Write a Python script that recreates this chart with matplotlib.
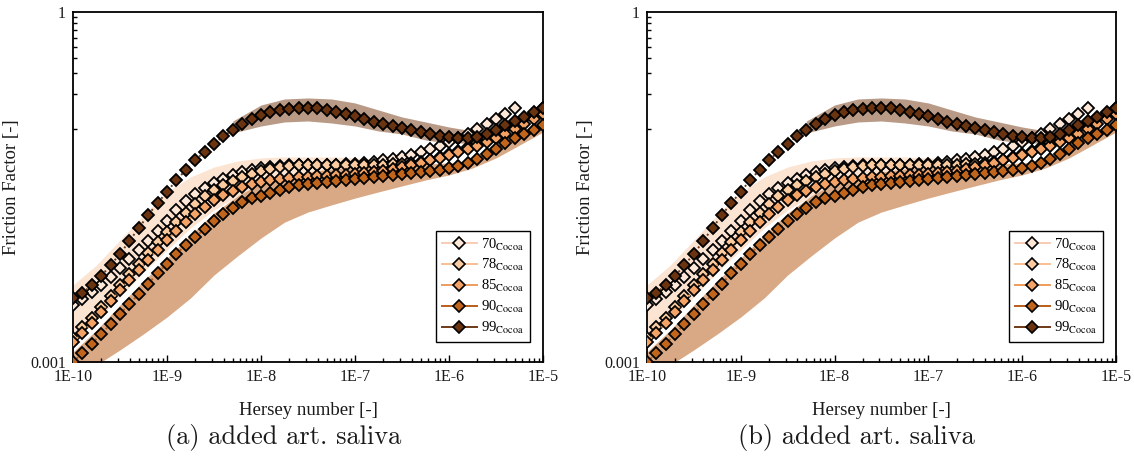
import numpy as np
import matplotlib
matplotlib.use('Agg')
import matplotlib.pyplot as plt
from matplotlib.lines import Line2D
from matplotlib.ticker import FixedLocator, FixedFormatter, NullFormatter

plt.rcParams['font.family'] = ['Liberation Serif', 'DejaVu Serif']
plt.rcParams['mathtext.fontset'] = 'stix'

# Hersey number grid (10 points per decade)
hersey = np.logspace(-10, -5, 51)

f70 = [0.00308, 0.00347, 0.00398, 0.00457, 0.00535, 0.00639, 0.00764, 0.00912, 0.0109, 0.0133,
       0.0162, 0.0201, 0.0240, 0.0275, 0.0310, 0.0342, 0.0370, 0.0401, 0.0425, 0.0442,
       0.0460, 0.0469, 0.0479, 0.0488, 0.0486, 0.0485, 0.0486, 0.0488, 0.0490, 0.0496,
       0.0498, 0.0508, 0.0518, 0.0539, 0.0550, 0.0572, 0.0595, 0.0631, 0.0669, 0.0710,
       0.0768, 0.0832, 0.0900, 0.0993, 0.1096, 0.1210, 0.1335, 0.1504]
f78 = [0.00161, 0.00200, 0.00238, 0.00296, 0.00368, 0.00457, 0.00568, 0.00692, 0.00860, 0.0107,
       0.0130, 0.0158, 0.0189, 0.0226, 0.0265, 0.0298, 0.0329, 0.0356, 0.0385, 0.0409,
       0.0434, 0.0451, 0.0469, 0.0479, 0.0488, 0.0490, 0.0492, 0.0492, 0.0490, 0.0488,
       0.0488, 0.0488, 0.0490, 0.0492, 0.0494, 0.0498, 0.0508, 0.0518, 0.0539, 0.0572,
       0.0607, 0.0644, 0.0696, 0.0753, 0.0832, 0.0918, 0.1013, 0.1118, 0.1234, 0.1362,
       0.1504]
f85 = [0.00148, 0.00177, 0.00216, 0.00268, 0.00333, 0.00414, 0.00504, 0.00615, 0.00748, 0.00912,
       0.0111, 0.0133, 0.0158, 0.0186, 0.0213, 0.0245, 0.0270, 0.0292, 0.0316, 0.0335,
       0.0349, 0.0363, 0.0370, 0.0378, 0.0385, 0.0385, 0.0393, 0.0393, 0.0401, 0.0401,
       0.0409, 0.0417, 0.0425, 0.0434, 0.0451, 0.0469, 0.0488, 0.0508, 0.0539, 0.0561,
       0.0595, 0.0631, 0.0669, 0.0710, 0.0768, 0.0832, 0.0900, 0.0993, 0.1096, 0.1210,
       0.1335]
f90 = [0.00100, 0.00119, 0.00143, 0.00174, 0.00212, 0.00258, 0.00314, 0.00383, 0.00466, 0.00579,
       0.00692, 0.00843, 0.01007, 0.0118, 0.0138, 0.0162, 0.0186, 0.0209, 0.0235, 0.0254,
       0.0265, 0.0281, 0.0298, 0.0316, 0.0329, 0.0335, 0.0342, 0.0349, 0.0356, 0.0363,
       0.0370, 0.0378, 0.0385, 0.0393, 0.0401, 0.0409, 0.0417, 0.0425, 0.0434, 0.0442,
       0.0460, 0.0479, 0.0508, 0.0550, 0.0607, 0.0669, 0.0753, 0.0832, 0.0900, 0.0974,
       0.1075]
f99 = [0.00354, 0.00390, 0.00457, 0.00546, 0.00678, 0.00843, 0.0109, 0.0141, 0.0182, 0.0231,
       0.0287, 0.0363, 0.0442, 0.0539, 0.0631, 0.0739, 0.0865, 0.0974, 0.1096, 0.1210,
       0.1310, 0.1389, 0.1445, 0.1474, 0.1504, 0.1504, 0.1504, 0.1445, 0.1389, 0.1335,
       0.1284, 0.1210, 0.1141, 0.1096, 0.1054, 0.1013, 0.0974, 0.0936, 0.0900, 0.0865,
       0.0848, 0.0832, 0.0832, 0.0848, 0.0900, 0.0974, 0.1075, 0.1163, 0.1259, 0.1389,
       0.1504]

# spread bands
band_x = np.logspace(-10, -5, 21)
light_hi = [0.00457, 0.00678, 0.0111, 0.0182, 0.0287, 0.0385, 0.0469, 0.0528, 0.0561, 0.0572,
            0.0572, 0.0572, 0.0561, 0.0550, 0.0539, 0.0518, 0.0488]
light_lo = [0.00148, 0.00229, 0.00361, 0.00591, 0.00912, 0.0141, 0.0201, 0.0265, 0.0323, 0.0363,
            0.0385, 0.0393, 0.0401, 0.0417, 0.0434, 0.0451, 0.0469]
tan_hi = [0.00122, 0.00188, 0.00308, 0.00495, 0.00778, 0.01227, 0.0189, 0.0265, 0.0342, 0.0393,
          0.0425, 0.0451, 0.0469, 0.0479, 0.0488, 0.0498, 0.0508, 0.0539, 0.0710, 0.0918,
          0.1187]
tan_lo = [0.000575, 0.000943, 0.00127, 0.00174, 0.00243, 0.00354, 0.00557, 0.00810, 0.01156, 0.0158,
          0.0193, 0.0222, 0.0254, 0.0287, 0.0323, 0.0363, 0.0401, 0.0460, 0.0561, 0.0724,
          0.0936]
dark_x = 10 ** np.array([-8.3, -8.0, -7.75, -7.5, -7.25, -7.0, -6.75, -6.5, -6.25, -6.0, -5.75, -5.6])
dark_hi = [0.1163, 0.1595, 0.1796, 0.1832, 0.1796, 0.1660, 0.1445, 0.1259, 0.1141, 0.1033, 0.0955, 0.0848]
dark_lo = [0.0918, 0.1054, 0.1141, 0.1163, 0.1118, 0.1054, 0.0955, 0.0900, 0.0799, 0.0753, 0.0753, 0.0815]

labels = ["70", "78", "85", "90", "99"]
series = [f70, f78, f85, f90, f99]
faces = ["#fde8d8", "#fbcba2", "#f4a366", "#c2651c", "#6b3410"]
lines = ["#f7cdb3", "#f8bf92", "#ee9d5c", "#b85e1c", "#6e3a18"]

TEXT = "#1a1a1a"


def draw_panel(ax):
    ax.fill_between(band_x[:len(light_hi)], light_lo, light_hi, color="#fce4d3", lw=0, zorder=1)
    ax.fill_between(band_x, tan_lo, tan_hi, color="#d9a986", lw=0, zorder=1.2)
    ax.fill_between(dark_x, dark_lo, dark_hi, color="#b99a86", lw=0, zorder=1.4)

    for k, (lab, vals) in enumerate(zip(labels, series)):
        ax.plot(hersey[:len(vals)], vals, ls=":", lw=1.4, color=lines[k],
                marker="D", ms=6.3, mfc=faces[k], mec="black", mew=1.3, zorder=3 + k)

    ax.set_xscale("log")
    ax.set_yscale("log")
    ax.set_xlim(1e-10, 1e-5)
    ax.set_ylim(1e-3, 1)

    ax.xaxis.set_major_locator(FixedLocator([1e-10, 1e-9, 1e-8, 1e-7, 1e-6, 1e-5]))
    ax.xaxis.set_major_formatter(FixedFormatter(["1E-10", "1E-9", "1E-8", "1E-7", "1E-6", "1E-5"]))
    ax.yaxis.set_major_locator(FixedLocator([1e-3, 1]))
    ax.yaxis.set_major_formatter(FixedFormatter(["0.001", "1"]))
    ax.yaxis.set_minor_locator(FixedLocator([0.1 * i for i in range(1, 10)]))
    ax.yaxis.set_minor_formatter(NullFormatter())
    ax.tick_params(which="both", direction="in", top=False, right=False,
                   labelsize=11.5, labelcolor=TEXT, width=1.0)
    ax.tick_params(which="major", length=5)
    ax.tick_params(which="minor", length=3)
    ax.tick_params(axis="y", which="major", length=0, pad=5)
    ax.tick_params(axis="x", which="major", pad=5)
    for s in ax.spines.values():
        s.set_linewidth(1.3)

    ax.set_xlabel("Hersey number [-]", fontsize=13.5, color=TEXT)
    ax.set_ylabel("Friction Factor [-]", fontsize=13.5, color=TEXT)
    ax.xaxis.set_label_coords(0.5, -0.115)
    ax.yaxis.set_label_coords(-0.113, 0.5)

    handles = [Line2D([], [], color=lines[k], lw=1.4, marker="D", ms=6,
                      mfc=faces[k], mec="black", mew=1.2) for k in range(len(labels))]
    leg = ax.legend(handles, [lab + r"$_{\rm Cocoa}$" for lab in labels],
                    loc="lower right", bbox_to_anchor=(0.972, 0.057), borderaxespad=0,
                    fontsize=10.5, fancybox=False, framealpha=1, edgecolor="black",
                    handlelength=2.4, handletextpad=0.3, labelspacing=0.33,
                    borderpad=0.4)
    leg.get_frame().set_linewidth(1.0)
    leg.set_zorder(10)


fig = plt.figure(figsize=(11.34, 4.57), dpi=100)
ax1 = fig.add_axes([0.0644, 0.2079, 0.4145, 0.7659])
ax2 = fig.add_axes([0.5705, 0.2079, 0.4136, 0.7659])
draw_panel(ax1)
draw_panel(ax2)

fig.text(0.25, 0.042, "(a) added art. saliva", family="cmr10", fontsize=19, ha="center", va="center", color=TEXT)
fig.text(0.755, 0.042, "(b) added art. saliva", family="cmr10", fontsize=19, ha="center", va="center", color=TEXT)

fig.savefig("out.png", dpi=100)
